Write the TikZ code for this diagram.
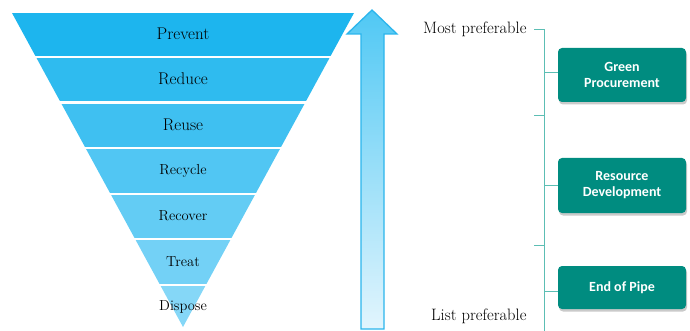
\documentclass[tikz,border=0pt]{standalone}
\usepackage{fontspec}
\newfontfamily\boxfont{Carlito}
\usetikzlibrary{shadows}
\definecolor{bandA}{RGB}{29,181,238}
\definecolor{bandG}{RGB}{133,215,247}
\definecolor{arrowtop}{RGB}{80,200,244}
\definecolor{arrowbot}{RGB}{226,245,253}
\definecolor{arrowline}{RGB}{43,181,236}
\definecolor{tealbox}{RGB}{0,140,128}
\definecolor{tealline}{RGB}{92,190,180}
\tikzset{
  x=1pt, y=-1pt,
  bandlabel/.style={font=\fontsize{17}{18}\selectfont, text=black},
  smalllabel/.style={font=\fontsize{14.5}{16}\selectfont, text=black},
  preflabel/.style={font=\fontsize{16.5}{18}\selectfont, anchor=east, text=black},
  tealbox/.style={fill=tealbox, rounded corners=4pt, text=white, align=center,
     font=\boxfont\bfseries\fontsize{14}{16}\selectfont, inner sep=0pt,
     drop shadow={shadow xshift=1pt, shadow yshift=-2.5pt, opacity=0.35, fill=black!60}},
  bracket/.style={draw=tealline, line width=1pt},
}
\begin{document}
\begin{tikzpicture}
\useasboundingbox (0,0) rectangle (690,331);
% funnel bands
\begin{scope}
  \clip (12,13) -- (354,13) -- (183,327) -- cycle;
  \foreach \t/\b/\p in {13/56/0, 58/101/17, 104/147/33, 149/193/50, 195/238/67, 240/284/83, 286/331/100}{
    \fill[bandG!\p!bandA] (0,\t) rectangle (360,\b);
  }
\end{scope}
\node[bandlabel] (prevent) at (183,34) {Prevent};
\node[bandlabel] (reduce) at (183,79) {Reduce};
\node[bandlabel] (reuse) at (183,125) {Reuse};
\node[smalllabel] (recycle) at (183,171) {Recycle};
\node[smalllabel] (recover) at (183,216) {Recover};
\node[smalllabel] (treat) at (183,262) {Treat};
\node[smalllabel] (dispose) at (183,307) {Dispose};
% arrow
\shade[top color=arrowtop, bottom color=arrowbot, draw=arrowline, line width=1.3pt, line join=miter]
  (361,329) -- (361,34) -- (347,34) -- (372,10) -- (397,34) -- (384,34) -- (384,329) -- cycle;
% labels
\node[preflabel] (most) at (530,29) {Most preferable};
\node[preflabel] (least) at (530,316) {List preferable};
% boxes
\node[tealbox, minimum width=128pt, minimum height=54pt] (green) at (622,75) {Green\\Procurement};
\node[tealbox, minimum width=128pt, minimum height=55pt] (resource) at (622,185.5) {Resource\\Development};
\node[tealbox, minimum width=128pt, minimum height=43pt] (pipe) at (622,287.5) {End of Pipe};
% bracket
\coordinate (btop) at (544,30);
\coordinate (bbot) at (544,331);
\draw[bracket] (534,30) -- (btop) -- (bbot);
\draw[bracket] (534,116) -- (544,116);
\draw[bracket] (534,245) -- (544,245);
\draw[bracket] (544,73) -- (green.west |- 544,73);
\draw[bracket] (544,185.5) -- (resource.west);
\draw[bracket] (544,291) -- (pipe.west |- 544,291);
\end{tikzpicture}
\end{document}
